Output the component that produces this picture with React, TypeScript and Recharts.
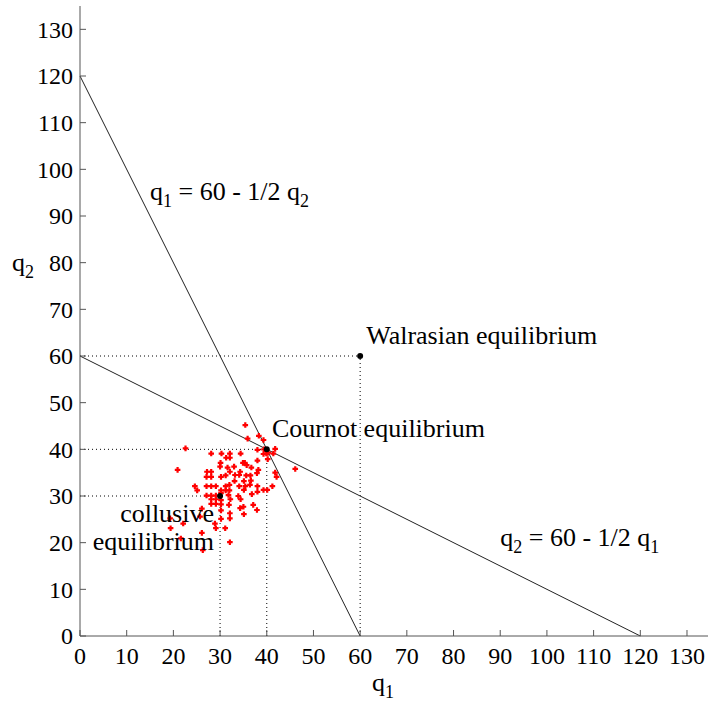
import { ComposedChart, XAxis, YAxis, Scatter, ReferenceLine, ReferenceDot } from 'recharts';

const font = "'Liberation Serif', 'DejaVu Serif', serif";
const axisColor = '#555';

const ticks = [0, 10, 20, 30, 40, 50, 60, 70, 80, 90, 100, 110, 120, 130];

// best responses: q1 = 60 - q2/2 and q2 = 60 - q1/2
const bestResponse1 = [{ x: 0, y: 120 }, { x: 60, y: 0 }];
const bestResponse2 = [{ x: 0, y: 60 }, { x: 120, y: 0 }];

const equilibria = [
  { name: 'collusive', x: 30, y: 30 },
  { name: 'Cournot', x: 40, y: 40 },
  { name: 'Walrasian', x: 60, y: 60 },
];

// simulated outcomes (q1, q2)
const simQ1 = [
  35.4, 35.9, 38.3, 39.3, 22.6, 38.0, 39.4, 39.9, 39.3, 40.3, 41.8, 41.4, 28.1, 30.3, 32.1, 34.4,
  31.3, 32.1, 34.9, 35.3, 30.1, 38.0, 40.2, 20.9, 46.1, 41.8, 42.1, 30.0, 31.6, 33.0, 35.7, 36.7,
  27.2, 28.1, 32.1, 34.3, 38.2, 37.9, 27.1, 28.1, 30.2, 31.2, 33.2, 34.1, 35.6, 36.5, 33.1, 35.1,
  36.6, 24.6, 27.1, 28.1, 29.1, 31.2, 32.0, 34.1, 35.4, 36.4, 38.0, 25.1, 30.2, 31.2, 32.0, 35.1,
  38.0, 39.3, 40.1, 41.2, 27.1, 28.1, 29.1, 30.2, 31.8, 33.9, 36.8, 28.1, 29.1, 30.2, 32.2, 34.4,
  28.1, 29.1, 30.2, 31.9, 34.3, 37.1, 30.2, 37.9, 35.0, 26.1, 32.1, 35.1, 19.3, 25.7, 30.2, 32.1,
  22.1, 28.9, 19.4, 29.1, 31.1, 26.1, 21.6, 32.1, 26.3,
];
const simQ2 = [
  45.2, 42.3, 42.9, 42.0, 40.2, 39.9, 40.0, 39.1, 39.0, 39.3, 40.1, 39.1, 39.1, 39.1, 39.1, 39.1,
  38.2, 38.2, 37.1, 37.1, 37.1, 37.6, 37.9, 35.6, 35.8, 35.0, 34.1, 36.3, 36.1, 36.3, 36.6, 36.1,
  35.2, 35.2, 35.2, 35.2, 35.6, 34.9, 34.1, 34.1, 34.1, 34.4, 34.5, 34.5, 34.4, 34.4, 33.2, 33.2,
  33.3, 32.1, 32.1, 32.1, 32.1, 32.1, 32.4, 32.1, 32.1, 32.4, 32.1, 31.2, 31.2, 31.2, 31.2, 31.3,
  30.9, 31.3, 31.3, 32.1, 30.1, 30.1, 30.1, 30.6, 30.2, 30.0, 30.4, 29.3, 29.3, 29.1, 29.3, 29.3,
  28.3, 28.3, 28.2, 28.1, 27.4, 28.1, 26.9, 27.0, 27.7, 27.3, 26.3, 26.1, 25.2, 25.6, 25.1, 25.2,
  24.1, 24.1, 23.1, 23.1, 23.1, 22.1, 20.9, 20.1, 18.4,
];

const simulated = simQ1.map((q1, i) => ({ x: q1, y: simQ2[i] }));

const X_GAP = 11;
const Y_GAP = 7;

const tickStyle = { fontSize: 24, fontFamily: font, fill: '#000' };
const textStyle = { fontSize: 26, fontFamily: font, fill: '#000' };

function XTick({ x, y, payload }: any) {
  const axisY = y - X_GAP;
  return (
    <g>
      <line x1={x} x2={x} y1={axisY} y2={axisY - 6} stroke={axisColor} />
      <text x={x} y={y} dy="0.71em" textAnchor="middle" style={tickStyle}>
        {payload.value}
      </text>
    </g>
  );
}

function YTick({ x, y, payload }: any) {
  const axisX = x + Y_GAP;
  return (
    <g>
      <line x1={axisX} x2={axisX + 6} y1={y} y2={y} stroke={axisColor} />
      <text x={x} y={y} dy="0.35em" textAnchor="end" style={tickStyle}>
        {payload.value}
      </text>
    </g>
  );
}

// "q" with a subscript, then optional text back on the baseline
function Sub({ sub, rest }: { sub: string; rest?: string }) {
  return (
    <>
      <tspan>q</tspan>
      <tspan style={{ fontSize: 18 }} dy={7}>{sub}</tspan>
      {rest ? <tspan dy={-7}>{rest}</tspan> : null}
    </>
  );
}

function Note({ cx, cy, children, anchor = 'start' }: any) {
  return (
    <text x={cx} y={cy} textAnchor={anchor} style={textStyle}>
      {children}
    </text>
  );
}

function RedMark({ cx, cy }: any) {
  const s = 2.8;
  const t = 1.1;
  const d = `M${cx - t},${cy - s}H${cx + t}V${cy - t}H${cx + s}V${cy + t}H${cx + t}V${cy + s}H${cx - t}V${cy + t}H${cx - s}V${cy - t}H${cx - t}Z`;
  return <path d={d} fill="#ff0000" />;
}

function BlackDot({ cx, cy }: any) {
  return <circle cx={cx} cy={cy} r={3} fill="#000" />;
}

export default function App() {
  return (
    <div style={{ position: 'absolute', left: 0, top: 0, background: '#fff' }}>
      <ComposedChart width={708} height={708} margin={{ top: 6, right: 0, left: 0, bottom: 0 }}>
        <XAxis
          type="number"
          dataKey="x"
          domain={[0, 134.5]}
          ticks={ticks}
          interval={0}
          allowDataOverflow
          height={72}
          stroke={axisColor}
          tickSize={0}
          tickMargin={X_GAP}
          tick={<XTick />}
          label={{
            content: ({ viewBox }: any) => (
              <text x={viewBox.x + viewBox.width / 2 - 22} y={viewBox.y + 55} style={textStyle}>
                <Sub sub="1" />
              </text>
            ),
          }}
        />
        <YAxis
          type="number"
          dataKey="y"
          domain={[0, 135]}
          ticks={ticks}
          interval={0}
          allowDataOverflow
          width={80}
          stroke={axisColor}
          tickSize={0}
          tickMargin={Y_GAP}
          tick={<YTick />}
          label={{
            content: () => (
              <text x={12} y={271} style={textStyle}>
                <Sub sub="2" />
              </text>
            ),
          }}
        />

        {equilibria.map((e) => (
          <ReferenceLine
            key={`h-${e.name}`}
            segment={[{ x: 0, y: e.y }, { x: e.x, y: e.y }]}
            stroke="#000"
            strokeDasharray="1 3"
          />
        ))}
        {equilibria.map((e) => (
          <ReferenceLine
            key={`v-${e.name}`}
            segment={[{ x: e.x, y: 0 }, { x: e.x, y: e.y }]}
            stroke="#000"
            strokeDasharray="1 3"
          />
        ))}
        <ReferenceLine segment={bestResponse1} stroke="#222" strokeWidth={1} />
        <ReferenceLine segment={bestResponse2} stroke="#222" strokeWidth={1} />

        <Scatter data={simulated} dataKey="y" shape={<RedMark />} isAnimationActive={false} />
        <Scatter data={equilibria} dataKey="y" shape={<BlackDot />} isAnimationActive={false} />

        <ReferenceDot
          x={15}
          y={93.4}
          r={0}
          shape={(p: any) => (
            <Note cx={p.cx} cy={p.cy}>
              <Sub sub="1" rest=" = 60 - 1/2 q" />
              <tspan style={{ fontSize: 18 }} dy={7}>2</tspan>
            </Note>
          )}
        />
        <ReferenceDot
          x={90}
          y={19.3}
          r={0}
          shape={(p: any) => (
            <Note cx={p.cx} cy={p.cy}>
              <Sub sub="2" rest=" = 60 - 1/2 q" />
              <tspan style={{ fontSize: 18 }} dy={7}>1</tspan>
            </Note>
          )}
        />
        <ReferenceDot
          x={61.3}
          y={62.6}
          r={0}
          shape={(p: any) => <Note cx={p.cx} cy={p.cy}>Walrasian equilibrium</Note>}
        />
        <ReferenceDot
          x={41.1}
          y={42.6}
          r={0}
          shape={(p: any) => <Note cx={p.cx} cy={p.cy}>Cournot equilibrium</Note>}
        />
        <ReferenceDot
          x={28.7}
          y={24.5}
          r={0}
          shape={(p: any) => (
            <Note cx={p.cx} cy={p.cy} anchor="end">collusive</Note>
          )}
        />
        <ReferenceDot
          x={28.7}
          y={18.4}
          r={0}
          shape={(p: any) => (
            <Note cx={p.cx} cy={p.cy} anchor="end">equilibrium</Note>
          )}
        />
      </ComposedChart>
    </div>
  );
}
